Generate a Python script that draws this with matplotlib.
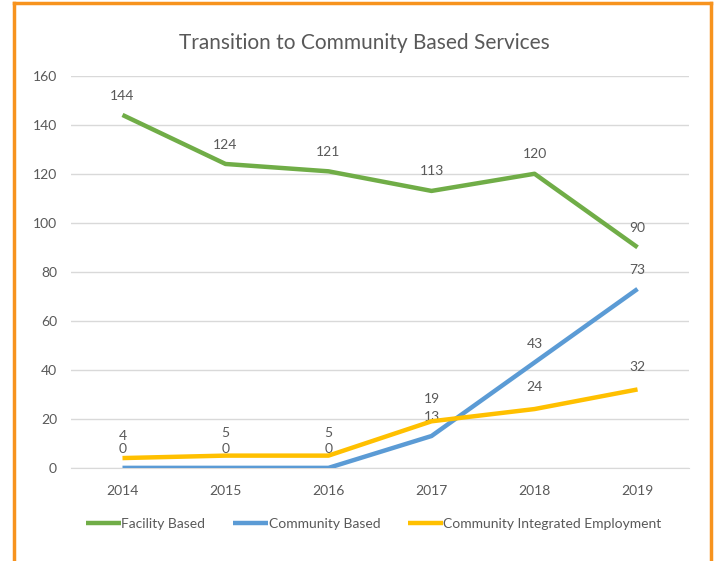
import matplotlib.pyplot as plt
from matplotlib.lines import Line2D

years = ["2014", "2015", "2016", "2017", "2018", "2019"]
facility = [144, 124, 121, 113, 120, 90]
community = [0, 0, 0, 13, 43, 73]
employment = [4, 5, 5, 19, 24, 32]

series = [
    ("Facility Based", facility, "#70AD47", 14),
    ("Community Based", community, "#5B9BD5", 13.5),
    ("Community Integrated Employment", employment, "#FFC000", 16),
]

plt.rcParams['font.family'] = ['Lato', 'DejaVu Sans']
txt = "#595959"

fig = plt.figure(figsize=(7.17, 5.61), dpi=100)
ax = fig.add_axes([0.099, 0.166, 0.862, 0.699])

x = list(range(len(years)))
for name, vals, col, off in series:
    ax.plot(x, vals, color=col, lw=3.2, label=name, solid_capstyle="butt", zorder=3)
    for xi, v in zip(x, vals):
        ax.annotate(str(v), (xi, v), xytext=(0, off), textcoords="offset points",
                    ha="center", va="center", fontsize=10, color=txt)

ax.set_xlim(-0.5, len(years) - 0.5)
ax.set_ylim(0, 160)
ax.set_yticks(range(0, 161, 20))
ax.set_xticks(x)
ax.set_xticklabels(years)
ax.grid(axis="y", color="#D9D9D9", lw=1)
ax.set_axisbelow(True)
for s in ["top", "right", "left"]:
    ax.spines[s].set_visible(False)
ax.spines["bottom"].set_color("#D9D9D9")
ax.tick_params(length=0, labelsize=10, colors=txt)
ax.tick_params(axis="x", pad=12)
ax.tick_params(axis="y", pad=10)

fig.text(0.508, 0.923, "Transition to Community Based Services",
         ha="center", va="center", fontsize=15, color=txt)

ax.legend(loc="upper center", bbox_to_anchor=(0.49, -0.095), ncol=3, frameon=False,
          fontsize=10, labelcolor=txt, handlelength=2.5, handletextpad=0.05,
          columnspacing=2.0)

# orange frame around the chart (bottom edge cropped)
oc = "#F7931E"
fig.add_artist(Line2D([14 / 717, 14 / 717], [0, 1 - 3 / 561], color=oc, lw=2.5,
                      transform=fig.transFigure))
fig.add_artist(Line2D([14 / 717, 711 / 717], [1 - 3 / 561, 1 - 3 / 561], color=oc,
                      lw=2.5, transform=fig.transFigure))
fig.add_artist(Line2D([711 / 717, 711 / 717], [0, 1 - 3 / 561], color=oc, lw=2.5,
                      transform=fig.transFigure))

fig.savefig("out.png", dpi=100)
